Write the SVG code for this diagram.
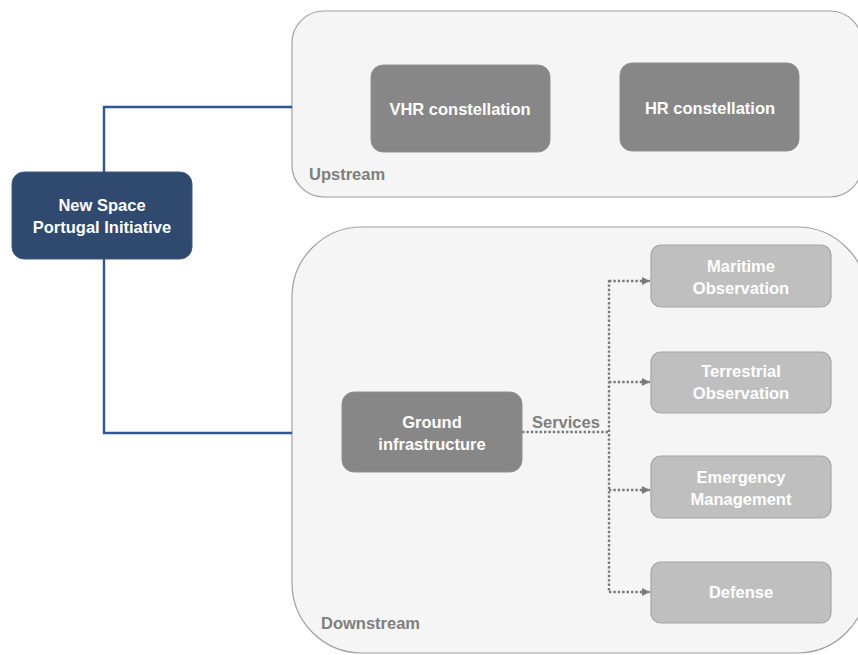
<svg xmlns="http://www.w3.org/2000/svg" width="858" height="655" viewBox="0 0 858 655">
<style>
  text { font-family: "Liberation Sans", Arial, sans-serif; font-weight: bold; font-size: 16.5px; text-anchor: middle; }
  .container { fill: #f5f5f5; stroke: #a0a0a0; stroke-width: 1.2; }
  .dark { fill: #878787; stroke: #8f8f8f; stroke-width: 1; }
  .light { fill: #bfbfbf; stroke: #a6a6a6; stroke-width: 1.2; }
  .main { fill: #30496f; stroke: #3d5a85; stroke-width: 1; }
  .wt { fill: #ffffff; }
  .lbl { fill: #7f7f7f; text-anchor: start; }
  .blue { fill: none; stroke: #2f5597; stroke-width: 2.4; }
  .dot { fill: none; stroke: #7a7a7a; stroke-width: 2.4; stroke-dasharray: 2.4 2; }
</style>
<defs>
  <marker id="ah" markerWidth="9" markerHeight="9" refX="8" refY="4.5" orient="auto" markerUnits="userSpaceOnUse">
    <path d="M0,0.5 L8,4.5 L0,8.5 Z" fill="#7a7a7a"/>
  </marker>
</defs>
<rect width="858" height="655" fill="#ffffff"/>

<g id="upstream">
  <rect class="container" x="292" y="11" width="570" height="186" rx="32" ry="32"/>
  <text class="lbl" x="309" y="180">Upstream</text>
</g>
<g id="downstream">
  <rect class="container" x="292" y="227" width="575" height="426" rx="70" ry="70"/>
  <text class="lbl" x="321" y="629">Downstream</text>
</g>

<g id="connectors">
  <path class="blue" d="M104,172 V107 H292"/>
  <path class="blue" d="M104,259 V433 H292"/>
  <path class="dot" d="M522,432 H609"/>
  <path class="dot" d="M609,280 V592"/>
  <path class="dot" d="M609,281 H650" marker-end="url(#ah)"/>
  <path class="dot" d="M609,382 H650" marker-end="url(#ah)"/>
  <path class="dot" d="M609,490 H650" marker-end="url(#ah)"/>
  <path class="dot" d="M609,592 H650" marker-end="url(#ah)"/>
  <text class="lbl" x="532" y="428">Services</text>
</g>

<g id="new-space">
  <rect class="main" x="12" y="172" width="180" height="87" rx="12" ry="12"/>
  <text class="wt" x="102" y="211">New Space</text>
  <text class="wt" x="102" y="233">Portugal Initiative</text>
</g>
<g id="vhr">
  <rect class="dark" x="371" y="65" width="179" height="87" rx="12" ry="12"/>
  <text class="wt" x="460" y="115">VHR constellation</text>
</g>
<g id="hr">
  <rect class="dark" x="620" y="63" width="179" height="88" rx="12" ry="12"/>
  <text class="wt" x="710" y="114">HR constellation</text>
</g>
<g id="ground">
  <rect class="dark" x="342" y="392" width="180" height="80" rx="12" ry="12"/>
  <text class="wt" x="432" y="428">Ground</text>
  <text class="wt" x="432" y="450">infrastructure</text>
</g>
<g id="maritime">
  <rect class="light" x="651" y="245" width="180" height="62" rx="10" ry="10"/>
  <text class="wt" x="741" y="272">Maritime</text>
  <text class="wt" x="741" y="294">Observation</text>
</g>
<g id="terrestrial">
  <rect class="light" x="651" y="352" width="180" height="61" rx="10" ry="10"/>
  <text class="wt" x="741" y="377">Terrestrial</text>
  <text class="wt" x="741" y="399">Observation</text>
</g>
<g id="emergency">
  <rect class="light" x="651" y="456" width="180" height="62" rx="10" ry="10"/>
  <text class="wt" x="741" y="483">Emergency</text>
  <text class="wt" x="741" y="505">Management</text>
</g>
<g id="defense">
  <rect class="light" x="651" y="562" width="180" height="61" rx="10" ry="10"/>
  <text class="wt" x="741" y="598">Defense</text>
</g>
</svg>
